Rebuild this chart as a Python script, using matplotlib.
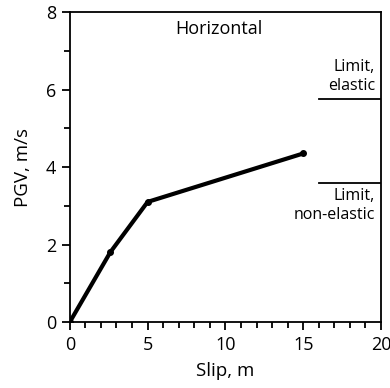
import matplotlib
matplotlib.use("Agg")
import matplotlib.pyplot as plt
from matplotlib.ticker import MultipleLocator

slip = [0, 2.6, 5, 15]
pgv = [0, 1.8, 3.1, 4.35]
limit_elastic = 5.76
limit_nonelastic = 3.59
limit_xrange = [16, 20]

plt.rcParams['font.family'] = ['Open Sans', 'DejaVu Sans']

fig = plt.figure(figsize=(3.9, 3.88), dpi=100)
ax = fig.add_axes([0.179, 0.170, 0.798, 0.799])

ax.plot(slip, pgv, color='black', lw=3.0, marker='o', ms=4, solid_capstyle='round')
ax.plot(limit_xrange, [limit_elastic]*2, color='black', lw=1.3)
ax.plot(limit_xrange, [limit_nonelastic]*2, color='black', lw=1.3)

ax.text(9.6, 7.55, 'Horizontal', ha='center', va='center', fontsize=13)
ax.text(19.6, 5.88, 'Limit,\nelastic', ha='right', va='bottom', fontsize=11.5, linespacing=1.25)
ax.text(19.6, 3.47, 'Limit,\nnon-elastic', ha='right', va='top', fontsize=11.5, linespacing=1.25)

ax.set_xlim(0, 20)
ax.set_ylim(0, 8)
ax.xaxis.set_major_locator(MultipleLocator(5))
ax.xaxis.set_minor_locator(MultipleLocator(1))
ax.yaxis.set_major_locator(MultipleLocator(2))
ax.yaxis.set_minor_locator(MultipleLocator(1))
ax.tick_params(which='both', direction='out', top=False, right=False, width=1.3, labelsize=13, colors='black')
ax.tick_params(which='major', length=6, pad=4)
ax.tick_params(which='minor', length=4)
for s in ax.spines.values():
    s.set_linewidth(1.3)

ax.set_xlabel('Slip, m', fontsize=13.5, labelpad=6)
ax.set_ylabel('PGV, m/s', fontsize=13.5, labelpad=10)

fig.savefig('out.png', dpi=100)
